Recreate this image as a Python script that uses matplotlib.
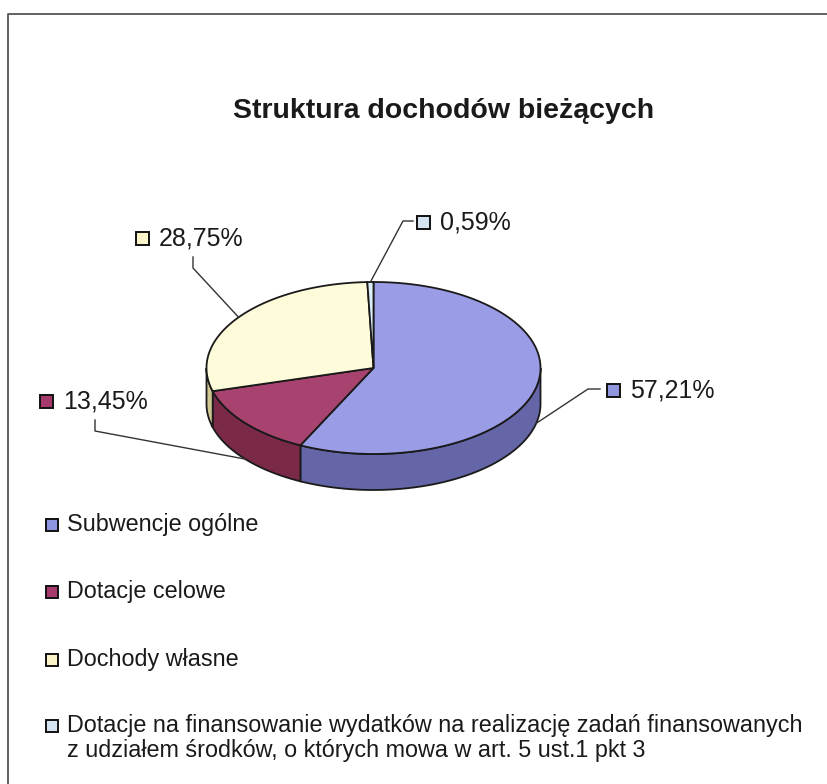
import numpy as np
import matplotlib.pyplot as plt
from matplotlib.patches import Polygon, Rectangle

plt.rcParams['font.family'] = ['Liberation Sans', 'DejaVu Sans']

tytul = 'Struktura dochodów bieżących'
kategorie = ['Subwencje ogólne',
             'Dotacje celowe',
             'Dochody własne',
             'Dotacje na finansowanie wydatków na realizację zadań finansowanych\n'
             'z udziałem środków, o których mowa w art. 5 ust.1 pkt 3']
udzialy = [57.21, 13.45, 28.75, 0.59]

kolory_gora = ['#9a9de6', '#a8436f', '#fdfbd9', '#dceef8']
kolory_bok = ['#6466a8', '#7a2a48', '#cfc893', '#a9bccb']
kolory_leg = ['#8f95df', '#a63a6c', '#fbf4c8', '#d4e4f2']

# geometria tortu (piksele)
cx, cy, rx, ry, gl = 373.5, 368, 167, 86, 36

# pozycje etykiet: (x kwadratu, y), punkty lamane linii
etykiety_poz = [(613, 390), (46, 401), (142, 238), (423, 222)]
lamane = [[(600, 389), (588, 389)],
          [(95, 420), (95, 431)],
          [(193, 257), (193, 268)],
          [(413, 221), (403, 221)]]

fig = plt.figure(figsize=(8.27, 7.84), dpi=100)
ax = fig.add_axes([0, 0, 1, 1])
ax.set_xlim(0, 827)
ax.set_ylim(784, 0)
ax.axis('off')

# ramka
ax.plot([8, 8, 827], [784, 14, 14], color='#555555', lw=1.3)


def pkt(th, dz=0.0):
    t = np.radians(th)
    return cx + rx * np.sin(t), cy - ry * np.cos(t) + dz


katy = np.concatenate([[0], np.cumsum(udzialy) / sum(udzialy) * 360])

# boki (widoczne tylko od przodu: 90..270 stopni)
for i in range(len(udzialy)):
    a0, a1 = max(katy[i], 90), min(katy[i + 1], 270)
    if a1 <= a0:
        continue
    th = np.linspace(a0, a1, 80)
    xg, yg = pkt(th)
    xd, yd = pkt(th[::-1], gl)
    poly = np.column_stack([np.r_[xg, xd], np.r_[yg, yd]])
    ax.add_patch(Polygon(poly, closed=True, fc=kolory_bok[i], ec='#1a1a1a', lw=1.3, zorder=2))

# gorne powierzchnie
for i in range(len(udzialy)):
    th = np.linspace(katy[i], katy[i + 1], 200)
    xg, yg = pkt(th)
    poly = np.column_stack([np.r_[cx, xg], np.r_[cy, yg]])
    ax.add_patch(Polygon(poly, closed=True, fc=kolory_gora[i], ec='#1a1a1a', lw=1.3, zorder=3))

# etykiety procentowe z liniami
for i, v in enumerate(udzialy):
    srodek = (katy[i] + katy[i + 1]) / 2
    dz = gl if np.cos(np.radians(srodek)) < 0 else 0
    ax_, ay_ = pkt(srodek, dz)
    xs = [p[0] for p in lamane[i]] + [ax_]
    ys = [p[1] for p in lamane[i]] + [ay_]
    ax.plot(xs, ys, color='#333333', lw=1.0, zorder=4)
    lx, ly = etykiety_poz[i]
    ax.add_patch(Rectangle((lx - 6.5, ly - 6.5), 13, 13, fc=kolory_leg[i], ec='#111111', lw=1.4, zorder=5))
    ax.text(lx + 17, ly, f'{v:.2f}'.replace('.', ',') + '%', fontsize=18,
            va='center', ha='left', color='#1a1a1a', zorder=5)

ax.text(444, 111, tytul, fontsize=20.5, fontweight='bold', ha='center', va='center', color='#1a1a1a')

# legenda
leg_y = [525, 592, 660, 726]
for i, nazwa in enumerate(kategorie):
    ax.add_patch(Rectangle((46, leg_y[i] - 6), 12, 12, fc=kolory_leg[i], ec='#111111', lw=1.4))
    ax.text(67, leg_y[i] - 12, nazwa, fontsize=16.8, ha='left', va='top', color='#1a1a1a',
            linespacing=1.1)

fig.savefig('out.png', dpi=100)
